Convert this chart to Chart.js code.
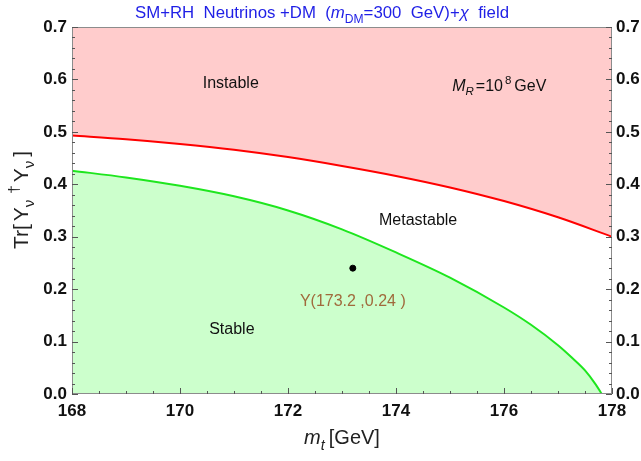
<!DOCTYPE html>
<html>
<head>
<meta charset="utf-8">
<script src="https://cdn.jsdelivr.net/npm/chart.js@4.4.1/dist/chart.umd.min.js"></script>
<style>
  html, body { margin: 0; padding: 0; background: #fff; }
  #wrap { width: 641px; height: 461px; position: relative; }
</style>
</head>
<body>
<div id="wrap"><canvas id="c" width="641" height="461"></canvas></div>
<script>
// Top-quark mass grid (GeV) and the stability boundaries in Tr[Yν† Yν]
const mtRed = [168, 169, 170, 171, 172, 173, 174, 175, 176, 177, 178];
const instabilityBoundary = [0.493, 0.486, 0.477, 0.466, 0.452, 0.435, 0.416, 0.394, 0.368, 0.337, 0.300];

const mtGreen = [168, 169, 170, 171, 172, 173, 174, 175, 176, 176.5, 177, 177.25, 177.5, 177.7, 177.81];
const stabilityBoundary = [0.426, 0.413, 0.397, 0.377, 0.350, 0.314, 0.270, 0.222, 0.165, 0.132, 0.093, 0.070, 0.045, 0.018, 0.0];

// Benchmark point
const benchmarkMt = 173.2;
const benchmarkTr = 0.24;

// Axis ranges and tick labels
const xRange = [168, 178];
const yRange = [0, 0.7];
const xTickLabels = [168, 170, 172, 174, 176, 178];
const yTickLabels = [0.0, 0.1, 0.2, 0.3, 0.4, 0.5, 0.6, 0.7];

const FONT = '"Liberation Sans", Arial, sans-serif';

function pairs(xs, ys) { return xs.map((x, i) => ({ x: x, y: ys[i] })); }

// Text runs with italic / subscript / superscript pieces
function richWidth(ctx, parts, size) {
  let w = 0;
  for (const p of parts) {
    const s = p.sub || p.sup ? size * 0.72 : size;
    ctx.font = (p.italic ? 'italic ' : '') + s + 'px ' + FONT;
    w += ctx.measureText(p.t).width + (p.gap || 0);
  }
  return w;
}
function drawRich(ctx, parts, x, y, size, color, align) {
  const total = richWidth(ctx, parts, size);
  let cx = align === 'center' ? x - total / 2 : x;
  ctx.fillStyle = color;
  ctx.textBaseline = 'alphabetic';
  ctx.textAlign = 'left';
  for (const p of parts) {
    const s = p.sub || p.sup ? size * 0.72 : size;
    ctx.font = (p.italic ? 'italic ' : '') + s + 'px ' + FONT;
    let dy = 0;
    if (p.sub) dy = size * 0.28;
    if (p.sup) dy = -size * 0.42;
    ctx.fillText(p.t, cx, y + dy);
    cx += ctx.measureText(p.t).width + (p.gap || 0);
  }
}

const framePlugin = {
  id: 'frameAndNotes',
  afterDatasetsDraw(chart) {
    const ctx = chart.ctx;
    const a = chart.chartArea;
    const xs = chart.scales.x, ys = chart.scales.y;
    ctx.save();
    // frame
    ctx.strokeStyle = '#8c8c8c';
    ctx.lineWidth = 1;
    ctx.strokeRect(a.left + 0.5, a.top + 0.5, a.right - a.left - 1, a.bottom - a.top - 1);
    // inward ticks
    ctx.strokeStyle = '#555';
    ctx.beginPath();
    for (let v = xRange[0]; v <= xRange[1] + 1e-9; v += 0.5) {
      const px = Math.round(xs.getPixelForValue(v)) + 0.5;
      const major = xTickLabels.some(t => Math.abs(t - v) < 1e-9);
      const len = major ? 6 : 3;
      ctx.moveTo(px, a.bottom); ctx.lineTo(px, a.bottom - len);
    }
    for (let k = 0; k <= 35; k++) {
      const v = k * 0.02;
      const py = Math.round(ys.getPixelForValue(v)) + 0.5;
      const len = k % 5 === 0 ? 6 : 3;
      ctx.moveTo(a.left, py); ctx.lineTo(a.left + len, py);
      ctx.moveTo(a.right, py); ctx.lineTo(a.right - len, py);
    }
    ctx.stroke();

    // region labels
    ctx.fillStyle = '#111';
    ctx.font = '16px ' + FONT;
    ctx.textAlign = 'center';
    ctx.textBaseline = 'middle';
    ctx.fillText('Instable', xs.getPixelForValue(170.94), ys.getPixelForValue(0.593));
    ctx.fillText('Metastable', xs.getPixelForValue(174.41), ys.getPixelForValue(0.330));
    ctx.fillText('Stable', xs.getPixelForValue(170.96), ys.getPixelForValue(0.122));

    drawRich(ctx, [
      { t: 'M', italic: true }, { t: 'R', italic: true, sub: true, gap: 2 },
      { t: '=10', gap: 2 }, { t: '8', sup: true, gap: 3 }, { t: 'GeV' }
    ], xs.getPixelForValue(175.04), ys.getPixelForValue(0.578), 16, '#111', 'left');

    ctx.fillStyle = '#a06a3c';
    ctx.font = '16px ' + FONT;
    ctx.textAlign = 'center';
    ctx.textBaseline = 'middle';
    ctx.fillText('Y(' + benchmarkMt.toFixed(1) + ' ,' + benchmarkTr.toFixed(2) + ' )',
      xs.getPixelForValue(benchmarkMt), ys.getPixelForValue(0.177));

    // title
    drawRich(ctx, [
      { t: 'SM+RH  Neutrinos +DM  (' }, { t: 'm', italic: true }, { t: 'DM', sub: true },
      { t: '=300  GeV)+' }, { t: 'χ', italic: true }, { t: '  field' }
    ], 322, 18, 16.8, '#1f1fe6', 'center');

    // x-axis title
    drawRich(ctx, [
      { t: 'm', italic: true }, { t: 't', italic: true, sub: true, gap: 4 }, { t: '[GeV]' }
    ], 342, 444, 20, '#222', 'center');

    // y-axis title (rotated)
    ctx.translate(28, 200);
    ctx.rotate(-Math.PI / 2);
    drawRich(ctx, [
      { t: 'Tr[', gap: 3 }, { t: 'Y', gap: 0 }, { t: 'ν', sub: true, gap: 6 }, { t: '†', sup: true, gap: 3 },
      { t: 'Y' }, { t: 'ν', sub: true, gap: 4 }, { t: ']' }
    ], 0, 0, 21, '#222', 'center');
    ctx.restore();
  }
};

const tickFont = { family: FONT, size: 17, weight: 'bold' };

new Chart(document.getElementById('c'), {
  type: 'line',
  data: {
    datasets: [
      {
        label: 'instability',
        data: pairs(mtRed, instabilityBoundary),
        borderColor: '#ff0000',
        borderWidth: 2,
        backgroundColor: '#ffcccc',
        fill: 'end',
        pointRadius: 0,
        cubicInterpolationMode: 'monotone'
      },
      {
        label: 'stability',
        data: pairs(mtGreen, stabilityBoundary),
        borderColor: '#1ee61e',
        borderWidth: 2,
        backgroundColor: '#ccffcc',
        fill: 'origin',
        pointRadius: 0,
        cubicInterpolationMode: 'monotone'
      },
      {
        label: 'benchmark',
        data: [{ x: benchmarkMt, y: benchmarkTr }],
        showLine: false,
        order: -1,
        pointRadius: 3,
        pointBackgroundColor: '#000',
        pointBorderColor: '#000'
      }
    ]
  },
  options: {
    responsive: false,
    animation: false,
    layout: { padding: { top: 27, left: 0, right: 0, bottom: 0 } },
    plugins: { legend: { display: false }, tooltip: { enabled: false }, title: { display: false } },
    scales: {
      x: {
        type: 'linear', min: xRange[0], max: xRange[1], position: 'bottom',
        afterBuildTicks(s) { s.ticks = xTickLabels.map(v => ({ value: v })); },
        ticks: { font: tickFont, color: '#111', padding: 7, maxRotation: 0, callback: v => String(v) },
        grid: { display: false, drawTicks: false },
        border: { display: false },
        afterFit(s) { s.height = 67; }
      },
      y: {
        min: yRange[0], max: yRange[1], position: 'left',
        afterBuildTicks(s) { s.ticks = yTickLabels.map(v => ({ value: v })); },
        ticks: { font: tickFont, color: '#111', padding: 5, callback: v => v.toFixed(1) },
        grid: { display: false, drawTicks: false },
        border: { display: false },
        afterFit(s) { s.width = 72; }
      },
      y2: {
        min: yRange[0], max: yRange[1], position: 'right',
        afterBuildTicks(s) { s.ticks = yTickLabels.map(v => ({ value: v })); },
        ticks: { font: tickFont, color: '#111', padding: 4, callback: v => v.toFixed(1) },
        grid: { display: false, drawTicks: false },
        border: { display: false },
        afterFit(s) { s.width = 29; }
      }
    }
  },
  plugins: [framePlugin]
});
</script>
</body>
</html>
